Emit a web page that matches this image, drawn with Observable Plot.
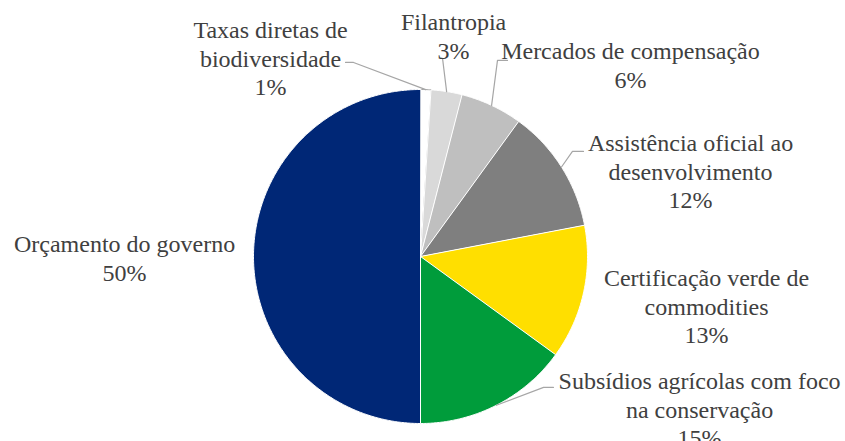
<!DOCTYPE html>
<html><head><meta charset="utf-8">
<script src="https://cdn.jsdelivr.net/npm/d3@7"></script>
<script src="https://cdn.jsdelivr.net/npm/@observablehq/plot@0.6"></script>
<style>html,body{margin:0;padding:0;background:#fff}</style>
</head><body><div id="chart"></div>
<script>
// ---- data ----
const categories = ["Taxas diretas de biodiversidade","Filantropia","Mercados de compensação","Assistência oficial ao desenvolvimento","Certificação verde de commodities","Subsídios agrícolas com foco na conservação","Orçamento do governo"];
const values = [1, 3, 6, 12, 13, 15, 50];
const labelLines = [["Taxas diretas de","biodiversidade"],["Filantropia"],["Mercados de compensação"],["Assistência oficial ao","desenvolvimento"],["Certificação verde de","commodities"],["Subsídios agrícolas com foco","na conservação"],["Orçamento do governo"]];
const sliceColors = ["#ffffff","#d9d9d9","#bfbfbf","#7f7f7f","#ffdf00","#009c3b","#002776"];
const sliceStrokes = ["#a6a6a6","#ffffff","#ffffff","#ffffff","#ffffff","#ffffff","#ffffff"];

// ---- layout (in pie-radius units) ----
const labelPos = [[-0.898,1.192],[0.198,1.323],[1.257,1.150],[1.617,0.515],[1.713,-0.293],[1.671,-0.910],[-1.772,-0.006]];
const leaderPos = [[[-0.449,1.162],[-0.401,1.162]],[[0.120,1.186],[0.132,1.186]],[[0.521,1.174],[0.461,1.174]],[[0.976,0.629],[0.910,0.629]],null,[[0.796,-0.784],[0.737,-0.784]],null];

const arcs = d3.pie().sort(null).value(d => d)(values);
const slicePts = [];
arcs.forEach((a, i) => {
  slicePts.push({x: 0, y: 0, i});
  const n = Math.max(2, Math.ceil((a.endAngle - a.startAngle) / (Math.PI / 360)));
  for (let k = 0; k <= n; k++) {
    const t = a.startAngle + (a.endAngle - a.startAngle) * k / n;
    slicePts.push({x: Math.sin(t), y: Math.cos(t), i});
  }
});
const leaderPts = [];
arcs.forEach((a, i) => {
  if (!leaderPos[i]) return;
  const [end, elbow] = leaderPos[i];
  leaderPts.push({x: end[0], y: end[1], i});
  leaderPts.push({x: elbow[0], y: elbow[1], i});
  const m = (a.startAngle + a.endAngle) / 2;
  leaderPts.push({x: Math.sin(m), y: Math.cos(m), i});
});
const labels = arcs.map((a, i) => ({
  x: labelPos[i][0], y: labelPos[i][1],
  text: labelLines[i].join("\n") + "\n" + values[i] + "%"
}));

const chart = Plot.plot({
  width: 845, height: 441, margin: 0,
  x: {domain: [-1, 1], range: [253, 587], axis: null},
  y: {domain: [-1, 1], range: [423, 89], axis: null},
  color: {type: "identity"},
  style: {background: "#fff"},
  marks: [
    Plot.line(slicePts, {x: "x", y: "y", z: "i", fill: d => sliceColors[d.i], stroke: d => sliceStrokes[d.i], strokeWidth: 1, curve: "linear-closed"}),
    Plot.line(leaderPts, {x: "x", y: "y", z: "i", stroke: "#a6a6a6", strokeWidth: 1.2}),
    Plot.text(labels, {x: "x", y: "y", text: "text", textAnchor: "middle", lineAnchor: "middle", lineHeight: 1.19, fontSize: 24, fontFamily: "Liberation Serif", fill: "#404040"})
  ]
});
document.getElementById("chart").appendChild(chart);
</script>
</body></html>
